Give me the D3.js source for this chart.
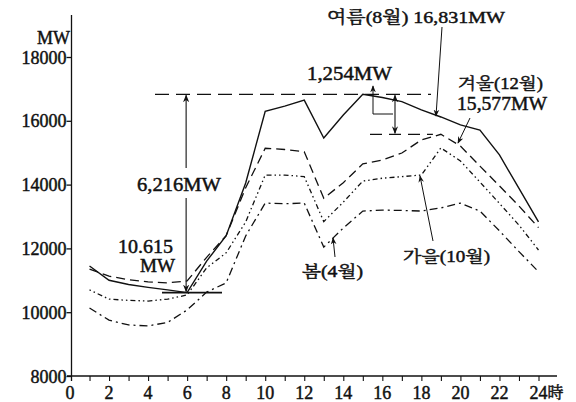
<!DOCTYPE html>
<html><head><meta charset="utf-8">
<script src="https://cdn.jsdelivr.net/npm/d3@7"></script>
<style>body{margin:0;background:#fff} svg{display:block}</style>
</head><body><svg id="c" width="576" height="402"></svg>
<script>
// ---- data ----
const hours  = [1,2,3,4,5,6,7,8,9,10,11,12,13,14,15,16,17,18,19,20,21,22,23,24];
const summer = [11450,11000,10870,10780,10700,10615,11600,12400,14050,16300,16460,16650,15460,16180,16831,16730,16600,16340,16120,15870,15710,14930,13880,12830];
const winter = [11350,11130,11020,10950,10920,10980,11720,12400,13900,15140,15100,15030,13570,14060,14650,14770,14990,15400,15577,15210,14580,13960,13330,12650];
const autumn = [10700,10410,10370,10350,10410,10540,11390,11860,12830,14300,14300,14250,12840,13450,14110,14200,14250,14300,15150,14740,14080,13410,12730,11950];
const spring = [10130,9750,9600,9570,9680,10070,10630,10920,12390,13420,13400,13420,12040,12640,13170,13200,13190,13170,13270,13420,13170,12550,11900,11270];
const yTickValues = [8000,10000,12000,14000,16000,18000];
const yTickLabels = ["8000","10000","12000","14000","16000","18000"];
const xTickValues = [0,2,4,6,8,10,12,14,16,18,20,22,24];
const xTickLabels = ["0","2","4","6","8","10","12","14","16","18","20","22","24"];
const summerPeak = 16831, summerMin = 10615, winterPeak = 15577;
const labels = {
  summer: "여름(8월) 16,831MW",
  winterA: "겨울(12월)", winterB: "15,577MW",
  autumn: "가을(10월)", spring: "봄(4월)",
  diff: "1,254MW", range: "6,216MW", minA: "10.615", minB: "MW",
  yUnit: "MW", xUnit: "時"
};

// ---- chart ----
const svg = d3.select("#c");
const FONT = '"Liberation Serif","Noto Serif CJK KR",serif';
const INK = "#111";
const TS = 0.45; // text stroke to mimic heavier print
const x = d3.scaleLinear().domain([0,24]).range([70,538.5]);
const y = d3.scaleLinear().domain([8000,18000]).range([376,57]);

function ink(sel, fs){
  return sel.style("font-family",FONT).style("font-size",fs+"px")
    .attr("fill",INK).attr("stroke",INK).attr("stroke-width",TS);
}

const defs = svg.append("defs");
defs.append("marker").attr("id","ah").attr("viewBox","0 0 10 10").attr("refX",9).attr("refY",5)
  .attr("markerWidth",7).attr("markerHeight",7).attr("orient","auto-start-reverse")
  .append("path").attr("d","M0,1 L10,5 L0,9 L3,5 Z").attr("fill",INK);

// axes
const gy = svg.append("g").attr("transform",`translate(${x(0)+1.5},0)`)
  .call(d3.axisLeft(y).tickValues(yTickValues).tickSize(5).tickSizeOuter(0)
    .tickFormat((d,i)=>yTickLabels[i]));
gy.select(".domain").remove();
gy.selectAll("line").attr("stroke",INK).attr("stroke-width",1.3);
ink(gy.selectAll("text"),18).attr("x",-5).attr("dy","0.34em");
svg.append("line").attr("x1",x(0)+1.5).attr("x2",x(0)+1.5).attr("y1",15).attr("y2",y(8000)+5)
  .attr("stroke",INK).attr("stroke-width",1.3);

const gx = svg.append("g").attr("transform",`translate(0,${y(8000)})`)
  .call(d3.axisBottom(x).tickValues(d3.range(1,25)).tickSize(5).tickSizeOuter(0).tickFormat(""));
gx.select(".domain").remove();
gx.selectAll("line").attr("stroke",INK).attr("stroke-width",1.1);
svg.append("line").attr("x1",x(0)-3).attr("x2",557).attr("y1",y(8000)).attr("y2",y(8000))
  .attr("stroke",INK).attr("stroke-width",1.5);
ink(svg.append("g").selectAll("text").data(xTickValues).join("text")
  .attr("x",d=>x(d)).attr("y",399).attr("text-anchor","middle")
  .text((d,i)=>xTickLabels[i]),18);
ink(svg.append("text").attr("x",x(24)+9).attr("y",398).text(labels.xUnit),16);
ink(svg.append("text").attr("x",70).attr("y",44).attr("text-anchor","end").text(labels.yUnit),18);

// series
const line = d3.line().x(d=>x(d[0])).y(d=>y(d[1]));
const series = [
  {v:summer, dash:null, w:1.4},
  {v:winter, dash:"9,5", w:1.3},
  {v:autumn, dash:"1.5,3,1.5,3,5,3", w:1.3},
  {v:spring, dash:"8,4,2,4", w:1.3}
];
svg.append("g").selectAll("path").data(series).join("path")
  .attr("d",s=>line(hours.map((h,i)=>[h,s.v[i]])))
  .attr("fill","none").attr("stroke",INK).attr("stroke-width",s=>s.w)
  .attr("stroke-dasharray",s=>s.dash);

// reference lines
const ys = y(summerPeak), ym = y(summerMin), yw = y(winterPeak);
svg.append("line").attr("x1",155).attr("x2",431).attr("y1",ys).attr("y2",ys)
  .attr("stroke",INK).attr("stroke-width",1.3).attr("stroke-dasharray","14,7");
svg.append("line").attr("x1",370).attr("x2",x(19)-8).attr("y1",yw).attr("y2",yw)
  .attr("stroke",INK).attr("stroke-width",1.3).attr("stroke-dasharray","12,7");
svg.append("line").attr("x1",162).attr("x2",222).attr("y1",ym).attr("y2",ym)
  .attr("stroke",INK).attr("stroke-width",1.6);

// 6,216 MW double arrow (broken behind label)
const xa = x(6)-1;
svg.append("line").attr("x1",xa).attr("x2",xa).attr("y1",168).attr("y2",ys+1)
  .attr("stroke",INK).attr("stroke-width",1.1).attr("marker-end","url(#ah)");
svg.append("line").attr("x1",xa).attr("x2",xa).attr("y1",198).attr("y2",ym-1)
  .attr("stroke",INK).attr("stroke-width",1.1).attr("marker-end","url(#ah)");
// 1,254 MW double arrow
svg.append("line").attr("x1",395).attr("x2",395).attr("y1",ys+1).attr("y2",yw-1)
  .attr("stroke",INK).attr("stroke-width",1.1)
  .attr("marker-start","url(#ah)").attr("marker-end","url(#ah)");
svg.append("path").attr("d","M393,114 H373 V86").attr("fill","none")
  .attr("stroke",INK).attr("stroke-width",1).attr("marker-end","url(#ah)");

// leader arrows
const leaders = [
  [442,27,436,116],
  [470,118,458,143],
  [433,241,420,176],
  [335,257,333,238]
];
svg.append("g").selectAll("line").data(leaders).join("line")
  .attr("x1",d=>d[0]).attr("y1",d=>d[1]).attr("x2",d=>d[2]).attr("y2",d=>d[3])
  .attr("stroke",INK).attr("stroke-width",1).attr("marker-end","url(#ah)");

// annotation texts
const ann = [
  {t:labels.summer, x:327, y:23, w:178, fs:17},
  {t:labels.diff, x:307, y:80, w:85, fs:18},
  {t:labels.winterA, x:458, y:89, w:85, fs:16},
  {t:labels.winterB, x:457, y:110, w:90, fs:18},
  {t:labels.range, x:137, y:191, w:84, fs:18},
  {t:labels.minA, x:118, y:253, w:55, fs:18},
  {t:labels.minB, x:140, y:272, w:35, fs:18},
  {t:labels.spring, x:302, y:277, w:61, fs:16},
  {t:labels.autumn, x:403, y:262, w:87, fs:16}
];
svg.append("g").selectAll("text").data(ann).join("text")
  .attr("x",d=>d.x).attr("y",d=>d.y).attr("textLength",d=>d.w).attr("lengthAdjust","spacingAndGlyphs")
  .style("font-family",FONT).style("font-size",d=>d.fs+"px")
  .attr("fill",INK).attr("stroke",INK).attr("stroke-width",TS).text(d=>d.t);
</script></body></html>
